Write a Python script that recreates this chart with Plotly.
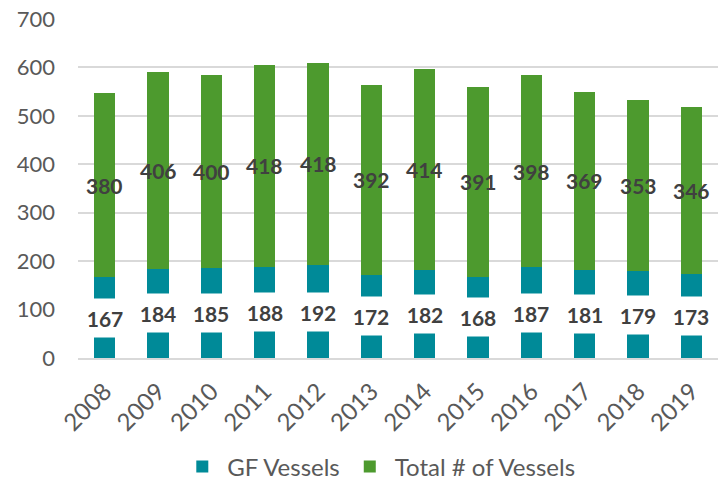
import plotly.graph_objects as go

years = ["2008", "2009", "2010", "2011", "2012", "2013",
         "2014", "2015", "2016", "2017", "2018", "2019"]
gf_vessels = [167, 184, 185, 188, 192, 172, 182, 168, 187, 181, 179, 173]
other_vessels = [380, 406, 400, 418, 418, 392, 414, 391, 398, 369, 353, 346]

TEAL = "#008A98"
GREEN = "#4D9A2E"
LABEL = "#404040"
FONT = "Lato, 'Open Sans', sans-serif"

fig = go.Figure()
fig.add_trace(go.Bar(x=years, y=gf_vessels, name="GF Vessels",
                     marker=dict(color=TEAL, line=dict(width=0))))
fig.add_trace(go.Bar(x=years, y=other_vessels, name="Total # of Vessels",
                     marker=dict(color=GREEN, line=dict(width=0))))

# value labels: GF labels sit on white boxes mid-bar, totals mid-segment
# (category axis: annotation x is the category index)
for i, (g, o) in enumerate(zip(gf_vessels, other_vessels)):
    fig.add_annotation(x=i, y=g / 2, xref="x", yref="y",
                       text=f"<b>{g}</b>", showarrow=False,
                       font=dict(family=FONT, size=21, color=LABEL),
                       bgcolor="white", width=42, height=26, borderpad=6)
    fig.add_annotation(x=i, y=g + o / 2, xref="x", yref="y",
                       text=f"<b>{o}</b>", showarrow=False,
                       font=dict(family=FONT, size=21, color=LABEL))

fig.update_layout(
    barmode="stack",
    bargap=0.6,
    width=725, height=483,
    margin=dict(l=78, r=7, t=19, b=125, autoexpand=False),
    paper_bgcolor="white", plot_bgcolor="white",
    font=dict(family=FONT, size=22, color="#595959"),
    showlegend=True,
    legend=dict(orientation="h", x=0.47, xanchor="center", y=-0.255, yanchor="top",
                font=dict(size=24, color="#595959"), traceorder="normal",
                itemwidth=40),
    yaxis=dict(range=[0, 700], dtick=100, showgrid=True, gridcolor="#D9D9D9",
               gridwidth=1.5, zeroline=False, showline=False, automargin=False,
               ticks="", ticklabelstandoff=22, tickfont=dict(size=22)),
    xaxis=dict(type="category", categoryorder="array", categoryarray=years,
               range=[-0.5, len(years) - 0.5],
               showline=True, linecolor="#D9D9D9", linewidth=1.5,
               ticks="", automargin=False, tickangle=-45, tickfont=dict(size=24),
               ticklabelstandoff=8),
)

fig.write_html("out.html")
